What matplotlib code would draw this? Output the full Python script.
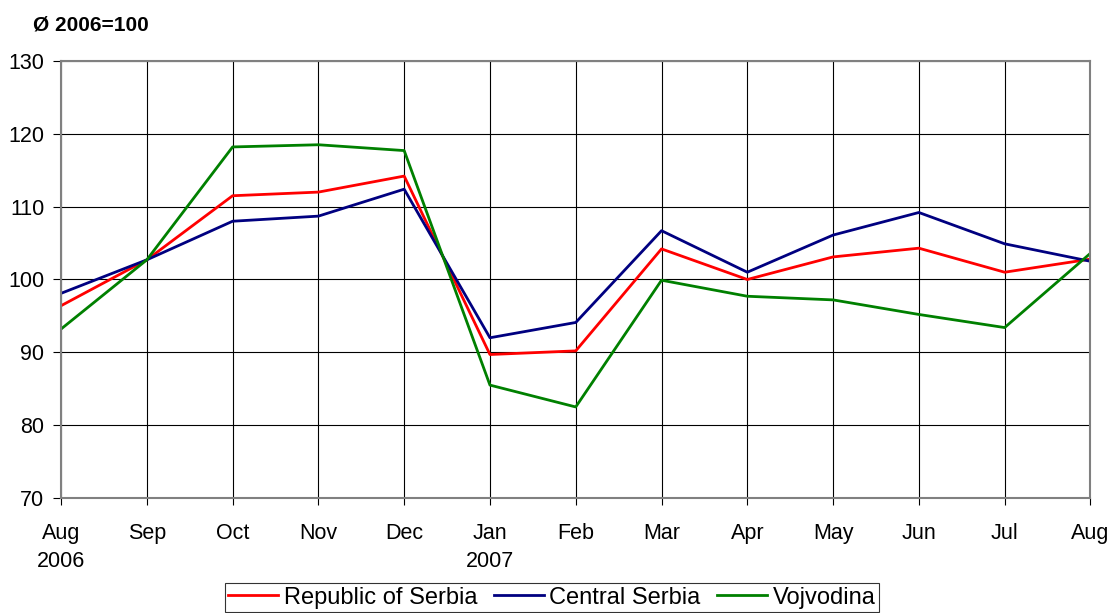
# Import libraries
import matplotlib.pyplot as plt

# Data
months = ['Aug\n2006', 'Sep', 'Oct', 'Nov', 'Dec', 'Jan\n2007', 'Feb',
          'Mar', 'Apr', 'May', 'Jun', 'Jul', 'Aug']
serbia = [96.4, 102.7, 111.5, 112.0, 114.2, 89.7, 90.2,
          104.2, 100.0, 103.1, 104.3, 101.0, 102.8]
central = [98.1, 102.7, 108.0, 108.7, 112.4, 92.0, 94.1,
           106.7, 101.0, 106.1, 109.2, 104.9, 102.5]
vojvodina = [93.2, 102.7, 118.2, 118.5, 117.7, 85.5, 82.5,
             99.9, 97.7, 97.2, 95.2, 93.4, 103.6]

plt.rcParams['font.family'] = ['Liberation Sans', 'DejaVu Sans']

fig = plt.figure(figsize=(11.12, 6.13), dpi=100)
ax = fig.add_axes([0.0549, 0.1876, 0.9257, 0.7129])

x = range(len(months))
ax.plot(x, serbia, color='#ff0000', lw=2, label='Republic of Serbia')
ax.plot(x, central, color='#000080', lw=2, label='Central Serbia')
ax.plot(x, vojvodina, color='#008000', lw=2, label='Vojvodina')

ax.set_xlim(0, len(months) - 1)
ax.set_ylim(70, 130)
ax.set_yticks(range(70, 131, 10))
ax.set_xticks(list(x))
ax.set_xticklabels(months, linespacing=1.45)
ax.tick_params(labelsize=15.5, color='black', direction='out')
ax.tick_params(axis='x', length=5, pad=13)
ax.tick_params(axis='y', length=6, pad=6)
ax.grid(True, color='black', lw=0.8)
ax.set_axisbelow(True)
for s in ax.spines.values():
    s.set_color('#808080')
    s.set_linewidth(1.5)

fig.text(0.03, 0.96, 'Ø 2006=100', fontsize=15, fontweight='bold', va='center')

leg = ax.legend(loc='upper center', bbox_to_anchor=(0.477, -0.1945), ncol=3,
                fontsize=17, frameon=True, fancybox=False, edgecolor='black',
                handlelength=2.1, handletextpad=0.25, columnspacing=0.7,
                borderpad=0.15, borderaxespad=0)
leg.get_frame().set_linewidth(0.8)

fig.savefig('out.png', dpi=100)
